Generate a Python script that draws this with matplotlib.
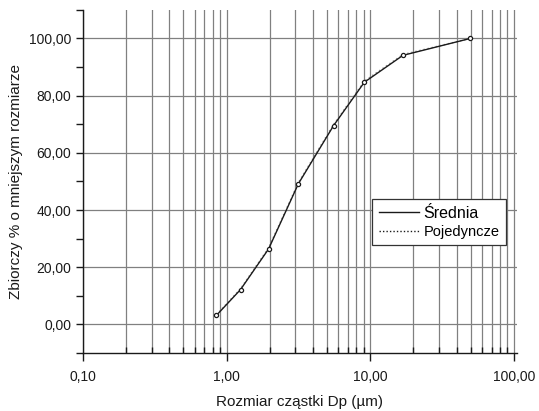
#!/usr/bin/env python3

import matplotlib.pyplot as plt
from matplotlib.lines import Line2D
from matplotlib.ticker import FixedLocator, FuncFormatter, LogLocator, MultipleLocator

plt.rcParams["font.family"] = ["Liberation Sans", "DejaVu Sans"]

# particle size (um) vs cumulative % undersize
sizes = [0.85, 1.25, 1.96, 3.16, 5.55, 9.1, 16.9, 49.7]
mean_pct = [3.2, 12.2, 26.4, 49.2, 69.5, 84.7, 94.1, 100.0]
single_pct = [3.4, 12.5, 26.8, 49.6, 69.9, 85.1, 94.4, 100.0]

x_ticks = [0.1, 1, 10, 100]
y_ticks = [0, 20, 40, 60, 80, 100]

legend_labels = ["Średnia", "Pojedyncze"]


def comma_fmt(v, pos):
    return f"{v:.2f}".replace(".", ",")


def run():
    fig = plt.figure(figsize=(5.39, 4.11), dpi=100)
    ax = fig.add_axes([0.154, 0.141, 0.805, 0.835])

    ax.plot(sizes, single_pct, color="0.55", ls=(0, (1, 2)), lw=1.0,
            zorder=3)
    ax.plot(sizes, mean_pct, color="0.1", lw=1.0, marker="o", ms=3,
            mfc="white", mec="0.1", mew=0.9, zorder=4)

    ax.set_xscale("log")
    ax.set_xlim(0.1, 105)
    ax.set_ylim(-10, 110)

    ax.xaxis.set_major_locator(FixedLocator(x_ticks))
    ax.xaxis.set_minor_locator(LogLocator(base=10, subs=range(2, 10)))
    ax.xaxis.set_major_formatter(FuncFormatter(comma_fmt))
    ax.xaxis.set_minor_formatter(FuncFormatter(lambda v, p: ""))
    ax.yaxis.set_major_locator(FixedLocator(y_ticks))
    ax.yaxis.set_minor_locator(MultipleLocator(10))
    ax.yaxis.set_major_formatter(FuncFormatter(comma_fmt))

    ax.grid(which="major", axis="both", color="0.5", lw=0.9)
    ax.grid(which="minor", axis="x", color="0.5", lw=0.9)
    ax.set_axisbelow(True)

    ax.tick_params(axis="x", which="major", direction="out", length=6,
                   width=1, labelsize=10, colors="0.1", pad=6)
    ax.tick_params(axis="x", which="minor", direction="in", length=4,
                   width=1, colors="0.1")
    ax.tick_params(axis="y", which="both", direction="out", length=5,
                   width=1, labelsize=10, colors="0.1")

    for side in ["top", "right"]:
        ax.spines[side].set_visible(False)
    for side in ["left", "bottom"]:
        ax.spines[side].set_color("0.1")
        ax.spines[side].set_linewidth(1.0)

    ax.set_xlabel("Rozmiar cząstki Dp (µm)", fontsize=11, color="0.1",
                  labelpad=8)
    ax.set_ylabel("Zbiorczy % o mniejszym rozmiarze", fontsize=11,
                  color="0.1", labelpad=4)

    handles = [Line2D([], [], color="0.1", lw=1.0),
               Line2D([], [], color="0.1", lw=1.0, ls=(0, (1, 1.5)))]
    leg = ax.legend(handles, legend_labels, loc="upper left",
                    bbox_to_anchor=(0.666, 0.449),
                    fontsize=10.5, frameon=True, fancybox=False,
                    handlelength=2.8, handletextpad=0.3, borderpad=0.45,
                    labelspacing=0.3, borderaxespad=0)
    leg.get_texts()[0].set_fontsize(11.5)
    leg.get_frame().set_edgecolor("0.2")
    leg.get_frame().set_linewidth(0.9)
    leg.get_frame().set_alpha(1)

    fig.savefig("out.png", dpi=100)


if __name__ == "__main__":
    run()
